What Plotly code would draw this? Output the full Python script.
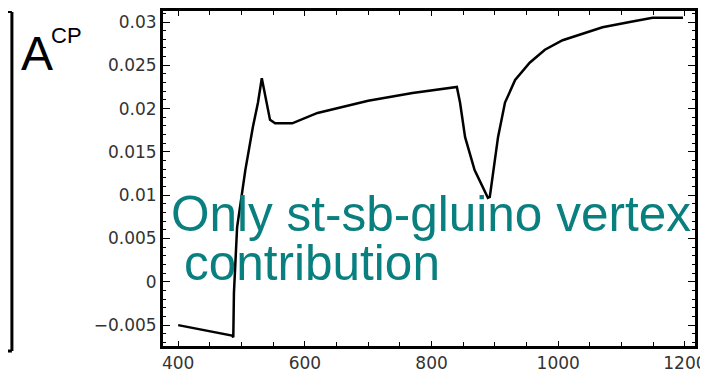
import plotly.graph_objects as go

# Data (gluino-mass scan of A_CP)
mass = [400, 485, 487, 488, 493, 506, 518, 526, 532, 545, 553, 580, 620, 700, 770, 840,
        845, 853, 868, 889, 892, 905, 916, 932, 955, 979, 1007, 1042, 1070, 1113, 1149, 1197]
acp = [-0.0050, -0.0062, -0.0064, -0.0013, 0.0063, 0.0129, 0.0179, 0.0207, 0.0235, 0.0187,
       0.0183, 0.0183, 0.0195, 0.0209, 0.0218, 0.0225,
       0.0207, 0.0167, 0.0129, 0.0097, 0.0098, 0.0167, 0.0207, 0.0233, 0.0253, 0.0268,
       0.0279, 0.0287, 0.0294, 0.0300, 0.0305, 0.0305]

x_tickvals = [400, 600, 800, 1000, 1200]
x_ticktext = ["400", "600", "800", "1000", "1200"]
y_tickvals = [-0.005, 0, 0.005, 0.01, 0.015, 0.02, 0.025, 0.03]
y_ticktext = ["\u22120.005", "0", "0.005", "0.01", "0.015", "0.02", "0.025", "0.03"]

fig = go.Figure()
fig.add_trace(go.Scatter(x=mass, y=acp, mode="lines",
                         line=dict(color="black", width=2.5), showlegend=False))

tickfont = dict(family="DejaVu Sans", size=17, color="#333333")

# The page body adds an 8px offset, so the figure is 8px smaller than the window
fig.update_layout(
    width=700, height=364,
    margin=dict(l=155, r=13, t=3, b=26),
    paper_bgcolor="white", plot_bgcolor="white",
    xaxis=dict(range=[376, 1216], tickvals=x_tickvals, ticktext=x_ticktext, automargin=False,
               ticks="inside", ticklen=5, tickwidth=1.2, tickcolor="black",
               showline=True, linewidth=3, linecolor="black", mirror="ticks",
               showgrid=False, zeroline=False, tickfont=tickfont,
               minor=dict(dtick=50, tick0=400, ticks="inside", ticklen=4, tickcolor="black")),
    yaxis=dict(range=[-0.00741, 0.03127], tickvals=y_tickvals, ticktext=y_ticktext, automargin=False,
               ticks="inside", ticklen=7, tickwidth=1.2, tickcolor="black",
               showline=True, linewidth=3, linecolor="black", mirror="ticks",
               showgrid=False, zeroline=False, tickfont=tickfont,
               minor=dict(dtick=0.001, tick0=0, ticks="inside", ticklen=3, tickcolor="black")),
)

# Axis label of the panel: A^CP
fig.add_annotation(xref="paper", yref="paper", x=-0.270, y=0.958, xanchor="left", yanchor="top",
                   text="A", showarrow=False,
                   font=dict(family="Liberation Sans", size=48, color="black"))
fig.add_annotation(xref="paper", yref="paper", x=-0.214, y=0.970, xanchor="left", yanchor="top",
                   text="CP", showarrow=False,
                   font=dict(family="Liberation Sans", size=22, color="black"))

# Teal description text
teal = dict(family="Liberation Sans", size=49.5, color="#0a7f7f")
fig.add_annotation(xref="paper", yref="paper", x=0.0113, y=0.397, xanchor="left", yanchor="middle",
                   text="Only st-sb-gluino vertex", showarrow=False, font=teal)
fig.add_annotation(xref="paper", yref="paper", x=0.0357, y=0.248, xanchor="left", yanchor="middle",
                   text="contribution", showarrow=False, font=teal)

# Edge of the neighbouring (cropped) panel on the left
fig.add_shape(type="line", xref="paper", yref="paper", x0=-0.284, x1=-0.284, y0=-0.015, y1=0.997,
              line=dict(color="black", width=3))
fig.add_shape(type="line", xref="paper", yref="paper", x0=-0.31, x1=-0.284, y0=-0.015, y1=-0.015,
              line=dict(color="black", width=3))
fig.add_shape(type="line", xref="paper", yref="paper", x0=-0.31, x1=-0.284, y0=0.997, y1=0.997,
              line=dict(color="black", width=2))

fig.write_html("out.html")
